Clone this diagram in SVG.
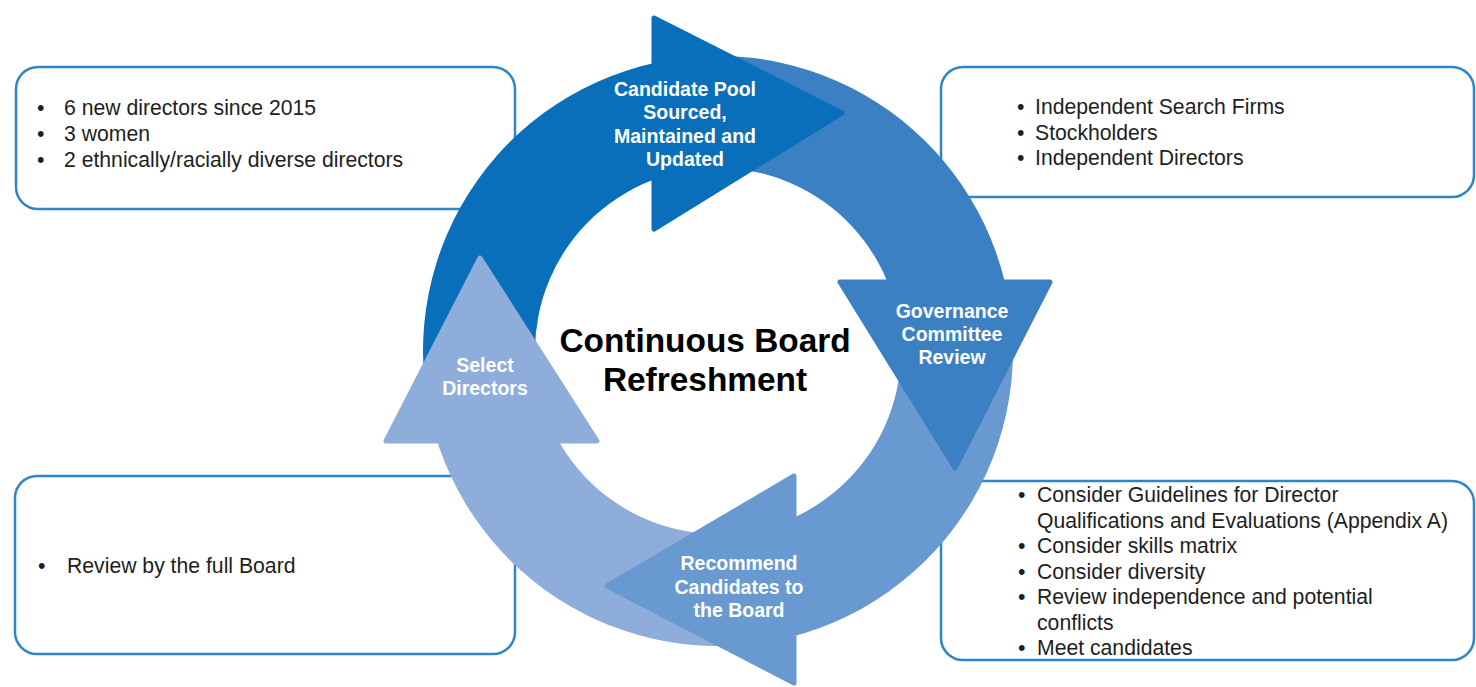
<svg xmlns="http://www.w3.org/2000/svg" width="1476" height="687" viewBox="0 0 1476 687">
<style>
.box{fill:#fff;stroke:#2E86C8;stroke-width:2.5}
.bt{font-family:"Liberation Sans",Arial,sans-serif;font-size:21.2px;fill:#1e1e1e}
.lbl{font-family:"Liberation Sans",Arial,sans-serif;font-size:19.5px;font-weight:bold;fill:#fff;text-anchor:middle}
.title{font-family:"Liberation Sans",Arial,sans-serif;font-size:33.4px;font-weight:bold;fill:#000;text-anchor:middle}
.c1{fill:#0A6FBA}.c2{fill:#3C80C4}.c3{fill:#6899D0}.c4{fill:#8EADDA}
.hd{stroke-width:5;stroke-linejoin:round}
</style>
<rect width="1476" height="687" fill="#fff"/>
<g id="box-top-left">
<rect class="box" x="16" y="67" width="499" height="142" rx="22"/>
<text class="bt"><tspan x="37" y="115">•</tspan><tspan x="64" y="115">6 new directors since 2015</tspan></text>
<text class="bt"><tspan x="37" y="141">•</tspan><tspan x="64" y="141">3 women</tspan></text>
<text class="bt"><tspan x="37" y="167">•</tspan><tspan x="64" y="167">2 ethnically/racially diverse directors</tspan></text>
</g>
<g id="box-top-right">
<rect class="box" x="941" y="67" width="533" height="130" rx="22"/>
<text class="bt"><tspan x="1017" y="114">•</tspan><tspan x="1035" y="114">Independent Search Firms</tspan></text>
<text class="bt"><tspan x="1017" y="140">•</tspan><tspan x="1035" y="140">Stockholders</tspan></text>
<text class="bt"><tspan x="1017" y="165">•</tspan><tspan x="1035" y="165">Independent Directors</tspan></text>
</g>
<g id="box-bottom-left">
<rect class="box" x="15" y="476" width="500" height="178" rx="22"/>
<text class="bt"><tspan x="38" y="573">•</tspan><tspan x="67" y="573">Review by the full Board</tspan></text>
</g>
<g id="box-bottom-right">
<rect class="box" x="941" y="481" width="533" height="179" rx="22"/>
<text class="bt"><tspan x="1018" y="502">•</tspan><tspan x="1037" y="502">Consider Guidelines for Director</tspan></text>
<text class="bt"><tspan x="1037" y="528">Qualifications and Evaluations (Appendix A)</tspan></text>
<text class="bt"><tspan x="1018" y="553">•</tspan><tspan x="1037" y="553">Consider skills matrix</tspan></text>
<text class="bt"><tspan x="1018" y="579">•</tspan><tspan x="1037" y="579">Consider diversity</tspan></text>
<text class="bt"><tspan x="1018" y="604">•</tspan><tspan x="1037" y="604">Review independence and potential</tspan></text>
<text class="bt"><tspan x="1037" y="630">conflicts</tspan></text>
<text class="bt"><tspan x="1018" y="655">•</tspan><tspan x="1037" y="655">Meet candidates</tspan></text>
</g>
<g id="connectors">
<path class="c1" d="M 430.56 417.36 A 295 295 0 0 1 687.16 57.62 L 698.87 169.00 A 183 183 0 0 0 539.69 392.17 Z"/>
<path class="c2" d="M 661.71 61.42 A 295 295 0 0 1 1010.13 309.94 L 899.22 325.53 A 183 183 0 0 0 683.08 171.36 Z"/>
<path class="c3" d="M 1006.55 289.67 A 295 295 0 0 1 743.71 644.88 L 733.95 533.30 A 183 183 0 0 0 897.00 312.95 Z"/>
<path class="c4" d="M 769.23 641.52 A 295 295 0 0 1 425.87 392.06 L 536.78 376.47 A 183 183 0 0 0 749.78 531.22 Z"/>
</g>
<g id="node-candidate-pool">
<polygon class="c1 hd" stroke="#0A6FBA" points="654,18 842,113 654,229"/>
<text class="lbl"><tspan x="685" y="96">Candidate Pool</tspan><tspan x="685" y="119">Sourced,</tspan><tspan x="685" y="143">Maintained and</tspan><tspan x="685" y="166">Updated</tspan></text>
</g>
<g id="node-governance">
<polygon class="c2 hd" stroke="#3C80C4" points="840,282 1050,282 955,468"/>
<text class="lbl"><tspan x="952" y="318">Governance</tspan><tspan x="952" y="341">Committee</tspan><tspan x="952" y="364">Review</tspan></text>
</g>
<g id="node-recommend">
<polygon class="c3 hd" stroke="#6899D0" points="794,476 794,683 607,586"/>
<text class="lbl"><tspan x="739" y="570">Recommend</tspan><tspan x="739" y="594">Candidates to</tspan><tspan x="739" y="617">the Board</tspan></text>
</g>
<g id="node-select">
<polygon class="c4 hd" stroke="#8EADDA" points="386,441 480,258 597,441"/>
<text class="lbl"><tspan x="485" y="372">Select</tspan><tspan x="485" y="395">Directors</tspan></text>
</g>
<g id="title">
<text class="title"><tspan x="705" y="352">Continuous Board</tspan><tspan x="705" y="391">Refreshment</tspan></text>
</g>
</svg>
